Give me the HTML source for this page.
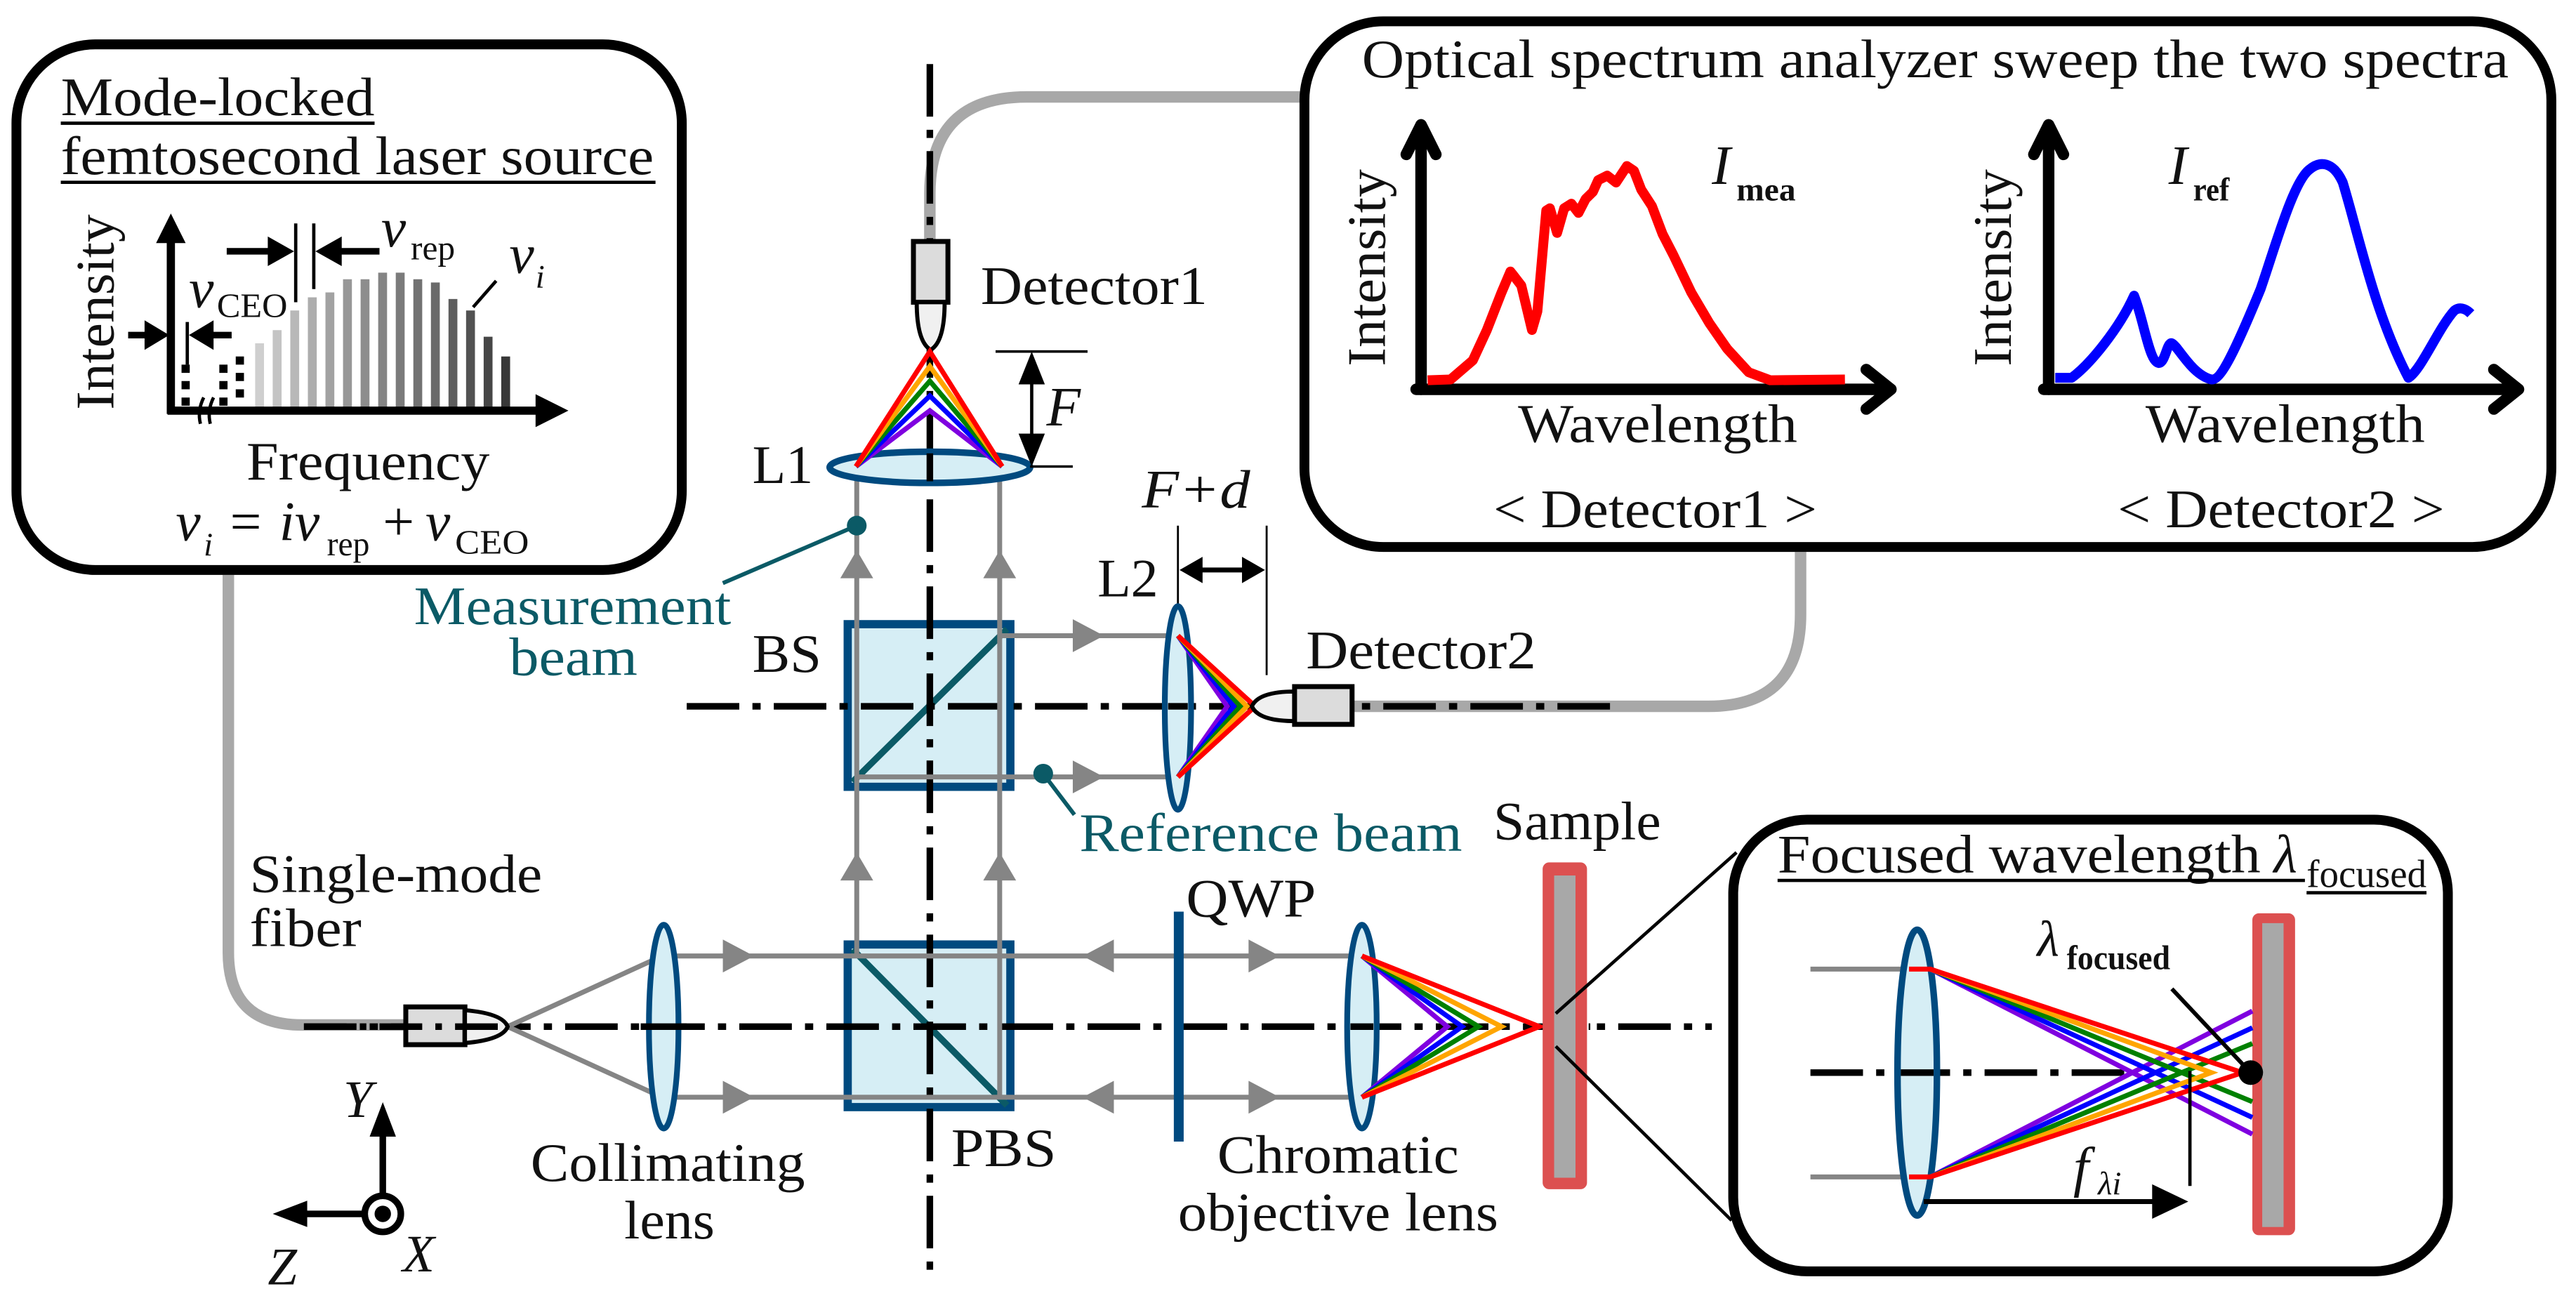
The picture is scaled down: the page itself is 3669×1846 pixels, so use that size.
<!DOCTYPE html>
<html><head><meta charset="utf-8"><style>
html,body{margin:0;padding:0;background:#fff;}
svg{display:block;}
svg text{font-family:'Liberation Serif','Times New Roman',Times,serif !important;fill:#111;}
.t{font-size:33px;font-family:'Liberation Serif',serif !important;}
.tl{fill:#0b5a66 !important;font-size:33px;font-family:'Liberation Serif',serif !important;}
</style></head><body>
<svg width="3669" height="1846" viewBox="0 0 1568 789" preserveAspectRatio="none" xmlns="http://www.w3.org/2000/svg" font-family="'Liberation Serif', serif">
<rect width="1568" height="789" fill="#fff"/>

<g fill="none" stroke="#a8a8a8" stroke-width="7">
<path d="M139,350 V580 Q139,624 184,624 H250"/>
<path d="M794,59 H625 Q566,59 566,118 V147"/>
<path d="M822,430 H1040 Q1096,430 1096,374 V336"/>
</g>

<rect x="516" y="380" width="99" height="99" fill="#d6eef5" stroke="#004a7f" stroke-width="5"/>
<line x1="519" y1="476" x2="613" y2="383" stroke="#0b5a66" stroke-width="4"/>
<rect x="516" y="575" width="99" height="99" fill="#d6eef5" stroke="#004a7f" stroke-width="5"/>
<line x1="519" y1="578" x2="613" y2="673" stroke="#0b5a66" stroke-width="4"/>

<g stroke="#000" stroke-width="4" stroke-dasharray="32 8 5 8" fill="none">
<line x1="566" y1="39" x2="566" y2="780"/>
<line x1="418" y1="430" x2="982" y2="430"/>
<line x1="185" y1="625" x2="1042" y2="625"/>
<line x1="1101" y1="653" x2="1300" y2="653"/>
</g>

<rect x="10" y="27" width="405" height="320" rx="48" fill="none" stroke="#000" stroke-width="6"/>
<text class="t" x="37" y="70" textLength="191" lengthAdjust="spacingAndGlyphs">Mode-locked</text>
<line x1="37" y1="75" x2="228" y2="75" stroke="#000" stroke-width="2"/>
<text class="t" x="37" y="106" textLength="361" lengthAdjust="spacingAndGlyphs">femtosecond laser source</text>
<line x1="37" y1="111" x2="399" y2="111" stroke="#000" stroke-width="2"/>
<text class="t" transform="translate(69,190) rotate(-90)" text-anchor="middle" textLength="119" lengthAdjust="spacingAndGlyphs">Intensity</text>
<g stroke-width="5.4">
<line x1="158" y1="209" x2="158" y2="250" stroke="#cfcfcf"/>
<line x1="168.7" y1="201" x2="168.7" y2="250" stroke="#c4c4c4"/>
<line x1="179.4" y1="189" x2="179.4" y2="250" stroke="#b8b8b8"/>
<line x1="190.1" y1="181" x2="190.1" y2="250" stroke="#adadad"/>
<line x1="200.8" y1="178" x2="200.8" y2="250" stroke="#a2a2a2"/>
<line x1="211.5" y1="170" x2="211.5" y2="250" stroke="#979797"/>
<line x1="222.2" y1="170" x2="222.2" y2="250" stroke="#8d8d8d"/>
<line x1="232.9" y1="166" x2="232.9" y2="250" stroke="#848484"/>
<line x1="243.6" y1="166" x2="243.6" y2="250" stroke="#7b7b7b"/>
<line x1="254.3" y1="170" x2="254.3" y2="250" stroke="#727272"/>
<line x1="265" y1="172" x2="265" y2="250" stroke="#696969"/>
<line x1="275.7" y1="182" x2="275.7" y2="250" stroke="#5e5e5e"/>
<line x1="286.4" y1="189" x2="286.4" y2="250" stroke="#525252"/>
<line x1="297.1" y1="205" x2="297.1" y2="250" stroke="#464646"/>
<line x1="307.8" y1="217" x2="307.8" y2="250" stroke="#383838"/>
</g>
<g stroke="#000" stroke-width="5" stroke-dasharray="5 5">
<line x1="113" y1="222" x2="113" y2="247"/>
<line x1="136" y1="222" x2="136" y2="247"/>
<line x1="146" y1="217" x2="146" y2="247"/>
</g>
<line x1="104" y1="145" x2="104" y2="252" stroke="#000" stroke-width="5"/>
<polygon points="104,130 95,148 113,148" fill="#000"/>
<line x1="102" y1="250" x2="330" y2="250" stroke="#000" stroke-width="5"/>
<polygon points="346,250 326,240 326,260" fill="#000"/>
<path d="M124,242 Q120,250 122,258 M130,242 Q126,250 128,258" stroke="#000" stroke-width="2" fill="none"/>
<line x1="78" y1="204" x2="95" y2="204" stroke="#000" stroke-width="4"/>
<polygon points="103,204 88,195 88,213" fill="#000"/>
<line x1="114" y1="196" x2="114" y2="222" stroke="#000" stroke-width="2"/>
<line x1="124" y1="204" x2="141" y2="204" stroke="#000" stroke-width="4"/>
<polygon points="115,204 130,195 130,213" fill="#000"/>
<text x="115" y="187" font-size="34" font-style="italic">ν</text>
<text x="132" y="193" font-size="21" textLength="43" lengthAdjust="spacingAndGlyphs">CEO</text>
<line x1="138" y1="153" x2="165" y2="153" stroke="#000" stroke-width="4"/>
<polygon points="179,153 163,144 163,162" fill="#000"/>
<line x1="180" y1="136" x2="180" y2="184" stroke="#000" stroke-width="2"/>
<line x1="191" y1="136" x2="191" y2="176" stroke="#000" stroke-width="2"/>
<line x1="205" y1="153" x2="231" y2="153" stroke="#000" stroke-width="4"/>
<polygon points="192,153 208,144 208,162" fill="#000"/>
<text x="232" y="150" font-size="34" font-style="italic">ν</text>
<text x="250" y="158" font-size="21" textLength="27" lengthAdjust="spacingAndGlyphs">rep</text>
<text x="310" y="166" font-size="34" font-style="italic">ν</text>
<text x="326" y="175" font-size="20" font-style="italic">i</text>
<line x1="302" y1="171" x2="288" y2="187" stroke="#000" stroke-width="2"/>
<text class="t" x="150" y="292" textLength="148" lengthAdjust="spacingAndGlyphs">Frequency</text>
<text x="107" y="329" font-size="34" font-style="italic">ν</text>
<text x="124" y="338" font-size="20" font-style="italic">i</text>
<text x="140" y="329" font-size="34">=</text>
<text x="170" y="329" font-size="34" font-style="italic">iν</text>
<text x="199" y="338" font-size="21" textLength="26" lengthAdjust="spacingAndGlyphs">rep</text>
<text x="233" y="329" font-size="34">+</text>
<text x="259" y="329" font-size="34" font-style="italic">ν</text>
<text x="277" y="337" font-size="21" textLength="45" lengthAdjust="spacingAndGlyphs">CEO</text>

<rect x="794" y="13" width="759" height="320" rx="48" fill="none" stroke="#000" stroke-width="6"/>
<text class="t" x="829" y="47" textLength="698" lengthAdjust="spacingAndGlyphs">Optical spectrum analyzer sweep the two spectra</text>
<text class="t" transform="translate(843,163) rotate(-90)" text-anchor="middle" textLength="120" lengthAdjust="spacingAndGlyphs">Intensity</text>
<text class="t" transform="translate(1224,163) rotate(-90)" text-anchor="middle" textLength="120" lengthAdjust="spacingAndGlyphs">Intensity</text>
<g stroke="#000" stroke-width="7" fill="none" stroke-linecap="round" stroke-linejoin="round">
<path d="M865,237 V76 M856,94 L865,76 L874,94"/>
<path d="M862,237 H1150 M1136,225 L1151,237 L1136,249"/>
<path d="M1247,237 V76 M1238,94 L1247,76 L1256,94"/>
<path d="M1244,237 H1532 M1518,225 L1533,237 L1518,249"/>
</g>
<polyline fill="none" stroke="#f00" stroke-width="6" stroke-linejoin="round" points="869,231.5 883,231 896.5,219.4 905,201 914,178 919.4,165.3 926,173.8 932.5,200.9 935.8,189.5 941.2,128.2 943.4,126.8 947.8,141.8 952.1,126.8 956.5,124 960.8,129.6 965.2,121.1 969.6,116.8 972.8,109.7 978.3,106.9 983.7,111.1 990.3,101.1 994.6,104 999,115.4 1005.5,125.4 1012,142.5 1018.6,155.3 1029.5,178.1 1040.4,196.6 1051.3,212.3 1064.4,226.6 1077.5,231.5 1123,231"/>
<path fill="none" stroke="#00f" stroke-width="6" stroke-linejoin="round" d="M1251,230 L1261,230 C1272,222 1290,200 1299,180 C1305,195 1308,220 1314,221 C1318,221 1319,208 1322,209 C1326,211 1334,228 1346,231 C1352,232 1362,210 1376,176 C1385,150 1396,110 1406,103 C1412,98 1420,98 1426,111 C1435,140 1445,190 1466,230 C1474,225 1484,200 1494,189 C1498,186 1502,189 1504,191"/>
<text x="1042" y="112" font-size="34" font-style="italic">I</text>
<text x="1057" y="122" font-size="20" font-weight="bold" textLength="36" lengthAdjust="spacingAndGlyphs">mea</text>
<text x="1320" y="112" font-size="34" font-style="italic">I</text>
<text x="1335" y="122" font-size="20" font-weight="bold" textLength="22" lengthAdjust="spacingAndGlyphs">ref</text>
<text class="t" x="924" y="269" textLength="170" lengthAdjust="spacingAndGlyphs">Wavelength</text>
<text class="t" x="1306" y="269" textLength="170" lengthAdjust="spacingAndGlyphs">Wavelength</text>
<text class="t" x="909" y="321" textLength="197" lengthAdjust="spacingAndGlyphs">&lt; Detector1 &gt;</text>
<text class="t" x="1289" y="321" textLength="199" lengthAdjust="spacingAndGlyphs">&lt; Detector2 &gt;</text>

<rect x="556" y="147" width="21" height="37" fill="#dcdcdc" stroke="#000" stroke-width="3"/>
<path d="M558,184 Q558,208 566.5,213 Q575,208 575,184 Z" fill="#f0f0f0" stroke="#000" stroke-width="2.5"/>
<text class="t" x="597" y="185" textLength="138" lengthAdjust="spacingAndGlyphs">Detector1</text>

<g stroke="#858585" stroke-width="3">
<line x1="521.5" y1="284" x2="521.5" y2="582"/>
<line x1="608.5" y1="284" x2="608.5" y2="668"/>
<line x1="608" y1="387" x2="717" y2="387"/>
<line x1="521" y1="473" x2="717" y2="473"/>
<line x1="309" y1="625" x2="403" y2="582"/>
<line x1="309" y1="625" x2="403" y2="668"/>
<line x1="403" y1="582" x2="829" y2="582"/>
<line x1="403" y1="668" x2="829" y2="668"/>
</g>
<g fill="#858585">
<polygon points="521.5,335 511.5,352 531.5,352"/>
<polygon points="608.5,335 598.5,352 618.5,352"/>
<polygon points="521.5,519 511.5,536 531.5,536"/>
<polygon points="608.5,519 598.5,536 618.5,536"/>
<polygon points="672,387 653,377 653,397"/>
<polygon points="672,473 653,463 653,483"/>
<polygon points="459,582 440,572 440,592"/>
<polygon points="459,668 440,658 440,678"/>
<polygon points="659,582 678,572 678,592"/>
<polygon points="659,668 678,658 678,678"/>
<polygon points="779,582 760,572 760,592"/>
<polygon points="779,668 760,658 760,678"/>
</g>

<ellipse cx="566" cy="284.5" rx="61" ry="9.5" fill="#d6eef5" stroke="#004a7f" stroke-width="4"/>
<line x1="566" y1="276" x2="566" y2="293" stroke="#000" stroke-width="4"/>
<g fill="none" stroke-width="3">
<polyline points="521,284 566,250 610,284" stroke="#7f00e0"/>
<polyline points="521,284 566,241 610,284" stroke="#0000ff"/>
<polyline points="521,284 566,232 610,284" stroke="#008000"/>
<polyline points="521,284 566,223 610,284" stroke="#ffa500"/>
<polyline points="521,284 566,214 610,284" stroke="#ff0000"/>
</g>
<text class="t" x="458" y="294" textLength="37" lengthAdjust="spacingAndGlyphs">L1</text>
<line x1="606" y1="214" x2="662" y2="214" stroke="#000" stroke-width="1.5"/>
<line x1="627" y1="284" x2="653" y2="284" stroke="#000" stroke-width="1.5"/>
<line x1="628" y1="225" x2="628" y2="273" stroke="#000" stroke-width="2"/>
<polygon points="628,214 620,234 636,234" fill="#000"/>
<polygon points="628,284 620,264 636,264" fill="#000"/>
<text x="637" y="259" font-size="34" font-style="italic">F</text>
<circle cx="521.5" cy="320" r="6" fill="#0b5a66"/>
<line x1="521.5" y1="320" x2="440" y2="355" stroke="#0b5a66" stroke-width="2.5"/>
<text class="tl" x="252" y="380" textLength="193" lengthAdjust="spacingAndGlyphs">Measurement</text>
<text class="tl" x="310" y="411" textLength="78" lengthAdjust="spacingAndGlyphs">beam</text>
<text class="t" x="458" y="409" textLength="42" lengthAdjust="spacingAndGlyphs">BS</text>

<text class="t" x="668" y="363" textLength="37" lengthAdjust="spacingAndGlyphs">L2</text>
<text x="695" y="309" font-size="33" font-style="italic" textLength="66" lengthAdjust="spacingAndGlyphs">F+d</text>
<line x1="717" y1="320" x2="717" y2="368" stroke="#000" stroke-width="1.2"/>
<line x1="771" y1="320" x2="771" y2="411" stroke="#000" stroke-width="1.2"/>
<line x1="728" y1="347" x2="760" y2="347" stroke="#000" stroke-width="3"/>
<polygon points="718,347 732,339 732,355" fill="#000"/>
<polygon points="770,347 756,339 756,355" fill="#000"/>
<ellipse cx="717" cy="431" rx="8" ry="62" fill="#d6eef5" stroke="#004a7f" stroke-width="3.5"/>
<line x1="711" y1="430" x2="723" y2="430" stroke="#000" stroke-width="4"/>
<g fill="none" stroke-width="3">
<polyline points="717,387 747,430 717,473" stroke="#7f00e0"/>
<polyline points="717,387 751,430 717,473" stroke="#0000ff"/>
<polyline points="717,387 755,430 717,473" stroke="#008000"/>
<polyline points="717,387 759,430 717,473" stroke="#ffa500"/>
<polyline points="717,387 764,430 717,473" stroke="#ff0000"/>
</g>
<path d="M788,421 Q766,421 762,430 Q766,439 788,439 Z" fill="#f0f0f0" stroke="#000" stroke-width="2.5"/>
<rect x="788" y="418" width="35" height="23" fill="#dcdcdc" stroke="#000" stroke-width="3"/>
<text class="t" x="795" y="407" textLength="140" lengthAdjust="spacingAndGlyphs">Detector2</text>
<circle cx="635" cy="471" r="6" fill="#0b5a66"/>
<line x1="635" y1="471" x2="654" y2="496" stroke="#0b5a66" stroke-width="2.5"/>
<text class="tl" x="657" y="518" textLength="233" lengthAdjust="spacingAndGlyphs">Reference beam</text>

<rect x="247" y="613" width="36" height="23" fill="#dcdcdc" stroke="#000" stroke-width="3"/>
<path d="M283,615 Q306,617 309,625 Q306,633 283,635 Z" fill="#f0f0f0" stroke="#000" stroke-width="2.5"/>
<line x1="185" y1="625" x2="309" y2="625" stroke="#000" stroke-width="4" stroke-dasharray="26 8 4 8"/>
<ellipse cx="404" cy="625" rx="9" ry="62" fill="#d6eef5" stroke="#004a7f" stroke-width="3.5"/>
<line x1="390" y1="625" x2="418" y2="625" stroke="#000" stroke-width="4"/>
<text class="t" x="152" y="543" textLength="178" lengthAdjust="spacingAndGlyphs">Single-mode</text>
<text class="t" x="152" y="576" textLength="68" lengthAdjust="spacingAndGlyphs">fiber</text>
<text class="t" x="323" y="719" textLength="167" lengthAdjust="spacingAndGlyphs">Collimating</text>
<text class="t" x="380" y="754" textLength="55" lengthAdjust="spacingAndGlyphs">lens</text>
<text class="t" x="579" y="710" textLength="64" lengthAdjust="spacingAndGlyphs">PBS</text>

<rect x="714.5" y="555" width="6" height="140" fill="#004a7f"/>
<text class="t" x="722" y="558" textLength="79" lengthAdjust="spacingAndGlyphs">QWP</text>

<ellipse cx="829" cy="625" rx="9" ry="62" fill="#d6eef5" stroke="#004a7f" stroke-width="3.5"/>
<line x1="822" y1="625" x2="836" y2="625" stroke="#000" stroke-width="4"/>
<g fill="none" stroke-width="3">
<polyline points="829,582 881,625 829,668" stroke="#7f00e0"/>
<polyline points="829,582 890,625 829,668" stroke="#0000ff"/>
<polyline points="829,582 900,625 829,668" stroke="#008000"/>
<polyline points="829,582 914,625 829,668" stroke="#ffa500"/>
<polyline points="829,582 937,625 829,668" stroke="#ff0000"/>
</g>
<text class="t" x="741" y="714" textLength="147" lengthAdjust="spacingAndGlyphs">Chromatic</text>
<text class="t" x="717" y="749" textLength="195" lengthAdjust="spacingAndGlyphs">objective lens</text>

<rect x="939" y="525" width="27" height="199" rx="4" fill="#dc5050"/>
<rect x="946" y="533" width="13" height="184" fill="#a8a8a8"/>
<text class="t" x="909" y="511" textLength="102" lengthAdjust="spacingAndGlyphs">Sample</text>
<line x1="947" y1="617" x2="1057" y2="519" stroke="#000" stroke-width="2"/>
<line x1="947" y1="637" x2="1054" y2="743" stroke="#000" stroke-width="2"/>
<rect x="968" y="620" width="80" height="10" fill="#fff"/>
<line x1="972" y1="625" x2="1042" y2="625" stroke="#000" stroke-width="4" stroke-dasharray="5 8 32 8 5 8"/>

<line x1="233" y1="690" x2="233" y2="727" stroke="#000" stroke-width="4"/>
<polygon points="233,671 225,692 241,692" fill="#000"/>
<line x1="185" y1="739" x2="222" y2="739" stroke="#000" stroke-width="4"/>
<polygon points="166,739 187,731 187,747" fill="#000"/>
<circle cx="233" cy="739" r="11" fill="#fff" stroke="#000" stroke-width="4"/>
<circle cx="233" cy="739" r="5" fill="#000"/>
<text x="209" y="680" font-size="32" font-style="italic">Y</text>
<text x="163" y="782" font-size="32" font-style="italic">Z</text>
<text x="245" y="774" font-size="32" font-style="italic">X</text>

<rect x="1055" y="499" width="435" height="275" rx="45" fill="#fff" stroke="#000" stroke-width="6"/>
<text class="t" x="1082" y="531" textLength="294" lengthAdjust="spacingAndGlyphs">Focused wavelength</text>
<text x="1384" y="531" font-size="33" font-style="italic">λ</text>
<text x="1404" y="540" font-size="24" textLength="73" lengthAdjust="spacingAndGlyphs">focused</text>
<line x1="1082" y1="536" x2="1403" y2="536" stroke="#000" stroke-width="2"/>
<line x1="1404" y1="543.5" x2="1477" y2="543.5" stroke="#000" stroke-width="2"/>
<line x1="1102" y1="653" x2="1300" y2="653" stroke="#000" stroke-width="4" stroke-dasharray="32 8 5 8"/>
<line x1="1102" y1="590" x2="1160" y2="590" stroke="#858585" stroke-width="3"/>
<line x1="1102" y1="716.5" x2="1160" y2="716.5" stroke="#858585" stroke-width="3"/>
<ellipse cx="1167" cy="653" rx="12" ry="87" fill="#d6eef5" stroke="#004a7f" stroke-width="4"/>
<line x1="1157" y1="653" x2="1177" y2="653" stroke="#000" stroke-width="4"/>
<rect x="1371" y="556" width="26" height="196" rx="4" fill="#dc5050"/>
<rect x="1377" y="562" width="13" height="185" fill="#a8a8a8"/>
<g fill="none" stroke-width="3">
<polyline points="1175,590 1298,653 1175,716.5" stroke="#7f00e0"/>
<line x1="1298" y1="653" x2="1371" y2="615.5" stroke="#7f00e0"/>
<line x1="1298" y1="653" x2="1371" y2="690.5" stroke="#7f00e0"/>
<polyline points="1175,590 1312,653 1175,716.5" stroke="#0000ff"/>
<line x1="1312" y1="653" x2="1371" y2="625.7" stroke="#0000ff"/>
<line x1="1312" y1="653" x2="1371" y2="680.3" stroke="#0000ff"/>
<polyline points="1175,590 1328,653 1175,716.5" stroke="#008000"/>
<line x1="1328" y1="653" x2="1371" y2="635.3" stroke="#008000"/>
<line x1="1328" y1="653" x2="1371" y2="670.7" stroke="#008000"/>
<polyline points="1175,590 1346,653 1175,716.5" stroke="#ffa500"/>
<polyline points="1162,590 1175,590 1365,653 1175,716.5 1162,716.5" stroke="#ff0000"/>
</g>
<circle cx="1370" cy="653" r="7.5" fill="#000"/>
<line x1="1322" y1="602" x2="1368" y2="651" stroke="#000" stroke-width="2.5"/>
<text x="1240" y="582" font-size="31" font-style="italic">λ</text>
<text x="1258" y="590" font-size="21" font-weight="bold" textLength="63" lengthAdjust="spacingAndGlyphs">focused</text>
<line x1="1333" y1="652" x2="1333" y2="722" stroke="#000" stroke-width="2"/>
<line x1="1171" y1="731.5" x2="1315" y2="731.5" stroke="#000" stroke-width="3"/>
<polygon points="1332,731.5 1310,721 1310,742" fill="#000"/>
<text x="1262" y="722" font-size="34" font-style="italic">f</text>
<text x="1277" y="727" font-size="20" font-style="italic">λi</text>
</svg>
</body></html>
